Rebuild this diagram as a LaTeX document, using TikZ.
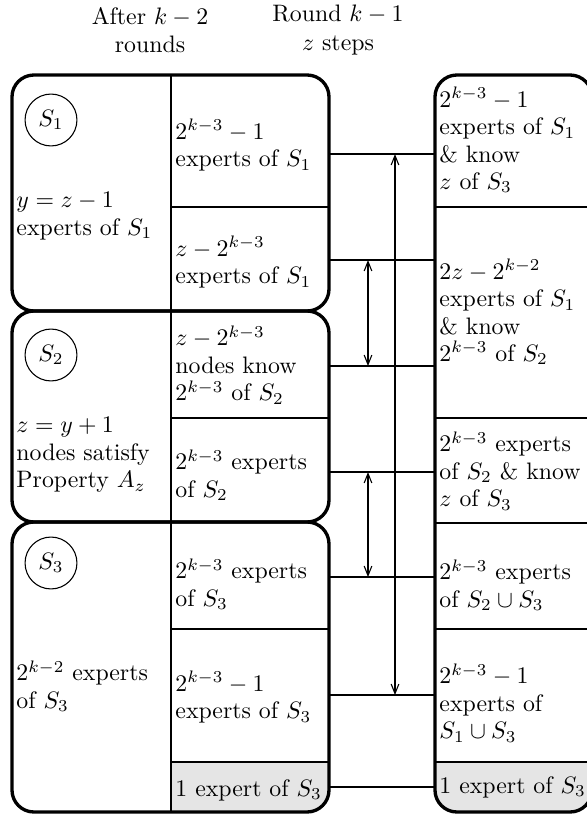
\documentclass[tikz,border=0pt]{standalone}
\usepackage{xcolor}
\usepackage{amsmath}
\usepackage{tikz}
\usetikzlibrary{arrows.meta,positioning}
\definecolor{cellgray}{HTML}{E5E5E5}

\begin{document}
\begin{tikzpicture}[x=0.42pt,y=-0.42pt,
  setbox/.style={line width=1.4pt,rounded corners=9.2pt},
  thinline/.style={line width=0.45pt},
  celltxt/.style={anchor=west,align=left,inner sep=0pt,font=\fontsize{10}{11.5}\selectfont},
  setname/.style={circle,draw,line width=0.45pt,minimum size=21.8pt,inner sep=0pt},
  headtxt/.style={align=center,inner sep=0pt},
  gap/.style={{Straight Barb[length=4pt,width=3.2pt]}-{Straight Barb[length=4pt,width=3.2pt]},line width=0.45pt}]
\useasboundingbox (0,0) rectangle (587,817);
% headings
\node[headtxt] (h1) at (150,30) {After $k-2$\\rounds};
\node[headtxt] (h2) at (338,30) {Round $k-1$\\$z$ steps};
% grey cells
\begin{scope}
\clip[rounded corners=9.2pt] (12,522) rectangle (329,812);
\fill[cellgray] (171,762) rectangle (329,812);
\end{scope}
\begin{scope}
\clip[rounded corners=9.2pt] (435,75) rectangle (592,812);
\fill[cellgray] (435,762) rectangle (592,812);
\end{scope}
% cell borders
\draw[thinline] (171,75) -- (171,812);
\foreach \yy in {207,418,629,762}
  \draw[thinline] (171,\yy) -- (329,\yy);
\foreach \yy in {207,418,523,629,762}
  \draw[thinline] (435,\yy) -- (592,\yy);
% the three sets and the result column
\draw[setbox] (12,75) rectangle (329,311);
\draw[setbox] (12,311) rectangle (329,522);
\draw[setbox] (12,522) rectangle (329,812);
\draw[setbox] (435,75) rectangle (592,812);
\node[setname] (n1) at (51,120) {$S_1$};
\node[setname] (n2) at (51,355) {$S_2$};
\node[setname] (n3) at (51,563) {$S_3$};
% left column
\node[celltxt] (c1) at (16,216) {$y=z-1$\\experts of $S_1$};
\node[celltxt] (c2) at (16,455) {$z=y+1$\\nodes satisfy\\Property $A_z$};
\node[celltxt] (c3) at (16,686) {$2^{k-2}$ experts\\of $S_3$};
% middle column
\node[celltxt] (m1) at (175,145) {$2^{k-3}-1$\\experts of $S_1$};
\node[celltxt] (m2) at (175,262) {$z-2^{k-3}$\\experts of $S_1$};
\node[celltxt] (m3) at (175,365) {$z-2^{k-3}$\\nodes know\\$2^{k-3}$ of $S_2$};
\node[celltxt] (m4) at (175,475) {$2^{k-3}$ experts\\of $S_2$};
\node[celltxt] (m5) at (175,584) {$2^{k-3}$ experts\\of $S_3$};
\node[celltxt] (m6) at (175,697) {$2^{k-3}-1$\\experts of $S_3$};
\node[celltxt] (m7) at (175,790) {1 expert of $S_3$};
% right column
\node[celltxt] (r1) at (439,140) {$2^{k-3}-1$\\experts of $S_1$\\\& know\\$z$ of $S_3$};
\node[celltxt] (r2) at (439,312) {$2z-2^{k-2}$\\experts of $S_1$\\\& know\\$2^{k-3}$ of $S_2$};
\node[celltxt] (r3) at (439,471) {$2^{k-3}$ experts\\of $S_2$ \& know\\$z$ of $S_3$};
\node[celltxt] (r4) at (439,585) {$2^{k-3}$ experts\\of $S_2\cup S_3$};
\node[celltxt] (r5) at (439,703) {$2^{k-3}-1$\\experts of\\$S_1\cup S_3$};
\node[celltxt] (r6) at (439,787) {1 expert of $S_3$};
% connectors
\foreach \i/\yy in {1/154,2/260,3/366,4/472,5/577,6/695,7/787}{
  \coordinate (la\i) at (329,\yy);
  \coordinate (ra\i) at (435,\yy);
  \draw[thinline] (la\i) -- (ra\i);
}
\coordinate (va) at (395,0);
\coordinate (vb) at (368,0);
\draw[gap] (va |- la1) -- (va |- la6);
\draw[gap] (vb |- la2) -- (vb |- la3);
\draw[gap] (vb |- la4) -- (vb |- la5);
\end{tikzpicture}
\end{document}
